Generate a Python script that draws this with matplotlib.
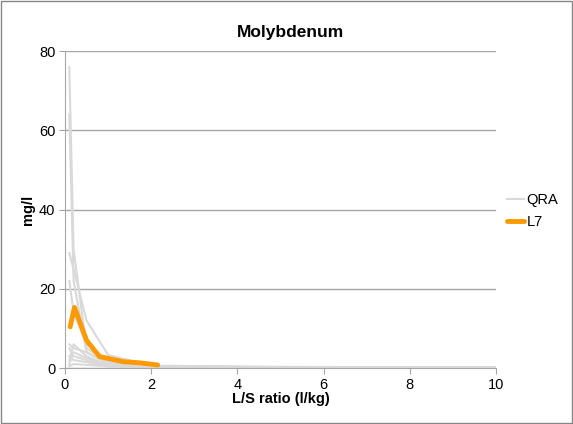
import matplotlib.pyplot as plt

plt.rcParams['font.family'] = ['Liberation Sans', 'DejaVu Sans']

# QRA lines (grey), L/S ratio vs concentration
qra_x = [0.1, 0.2, 0.5, 1.0, 2.0, 5.0, 10.0]
qra_series = [
    [76, 30, 5, 1.5, 0.5, 0.2, 0.1],
    [64, 22, 4, 1.2, 0.4, 0.2, 0.1],
    [29, 25, 12, 3.3, 0.6, 0.3, 0.1],
    [22, 14, 6, 1.8, 0.4, 0.2, 0.1],
    [6, 5, 4, 1.0, 0.3, 0.1, 0.05],
    [5, 3, 2, 0.8, 0.2, 0.1, 0.05],
    [2, 6, 3, 0.6, 0.2, 0.1, 0.05],
    [3, 2, 1.5, 0.5, 0.2, 0.1, 0.05],
    [1, 4, 2.5, 0.7, 0.2, 0.1, 0.05],
    [0.5, 1, 0.8, 0.4, 0.1, 0.05, 0.02],
]

# L7 line (orange)
l7_x = [0.12, 0.22, 0.5, 0.8, 1.35, 1.75, 2.15]
l7_y = [10.4, 15.3, 7.0, 2.9, 1.6, 1.3, 0.75]

fig = plt.figure(figsize=(5.73, 4.24), dpi=100)
ax = fig.add_axes([0.1134, 0.132, 0.7522, 0.7477])

for i, ys in enumerate(qra_series):
    ax.plot(qra_x, ys, color='#d9d9d9', lw=1.5,
            label='QRA' if i == 0 else None, zorder=2)
ax.plot(l7_x, l7_y, color='#ff9900', lw=3.5, label='L7',
        solid_capstyle='round', solid_joinstyle='round', zorder=3)

ax.set_xlim(0, 10)
ax.set_ylim(0, 80)
ax.set_xticks(range(0, 11, 2))
ax.set_yticks(range(0, 81, 20))
ax.yaxis.grid(True, color='#a6a6a6', lw=1)
ax.set_axisbelow(True)
for s in ['top', 'right']:
    ax.spines[s].set_visible(False)
for s in ['left', 'bottom']:
    ax.spines[s].set_color('#a6a6a6')
ax.tick_params(colors='#a6a6a6', labelcolor='black', labelsize=10.5, length=4, pad=3)

# title is centred on the whole chart, not the plot area
fig.text(291 / 573, 1 - 33 / 424, 'Molybdenum', fontsize=12.5, fontweight='bold',
         ha='center', va='center')
ax.set_xlabel('L/S ratio (l/kg)', fontsize=10.5, fontweight='bold', labelpad=0)
ax.set_ylabel('mg/l', fontsize=10.5, fontweight='bold', labelpad=3)

ax.legend(loc='center left', bbox_to_anchor=(0.995, 0.495), frameon=False,
          fontsize=10.5, handlelength=1.2, handletextpad=0.15, labelspacing=0.55)

fig.patches.append(plt.Rectangle((0.002, 0.002), 0.996, 0.996,
                                 transform=fig.transFigure, fill=False,
                                 edgecolor='#868686', lw=1))

fig.savefig('out.png', dpi=100)
